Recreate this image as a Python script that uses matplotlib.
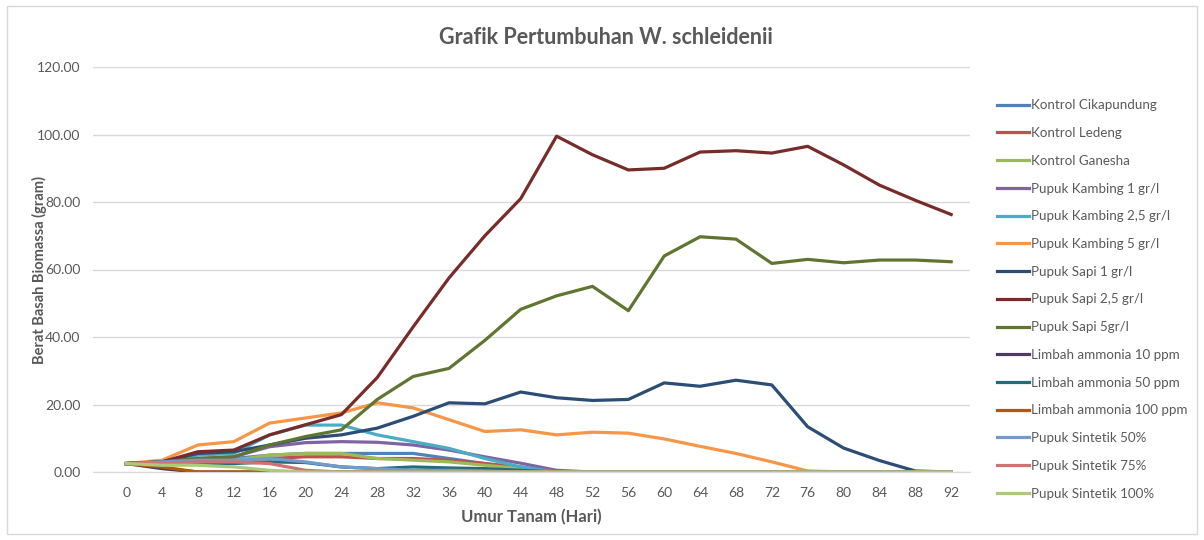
import matplotlib
matplotlib.use('Agg')
import matplotlib.pyplot as plt
from matplotlib.patches import Rectangle

plt.rcParams['font.family'] = ['Lato', 'DejaVu Sans']

days = list(range(0, 96, 4))

kontrol_cikapundung = [2.5, 3, 3.5, 4, 5, 5.5, 5.5, 5.5, 5.5, 4, 2.5, 1, 0, 0, 0, 0, 0, 0, 0, 0, 0, 0, 0, 0]
kontrol_ledeng = [2.5, 3, 3.5, 3.5, 4, 4.5, 4.5, 4, 4, 3.5, 2.5, 1.5, 0, 0, 0, 0, 0, 0, 0, 0, 0, 0, 0, 0]
kontrol_ganesha = [2.5, 3, 3, 3.5, 5, 5.5, 5.5, 4, 3.5, 3, 2, 1, 0, 0, 0, 0, 0, 0, 0, 0, 0, 0, 0, 0]
kambing_1 = [2.5, 3, 4, 4.5, 7.5, 8.7, 9, 8.8, 8, 6.5, 4.5, 2.6, 0.5, 0, 0, 0, 0, 0, 0, 0, 0, 0, 0, 0]
kambing_25 = [2.5, 3, 5, 5.5, 11, 13.9, 13.9, 11, 9, 7, 4, 1.5, 0, 0, 0, 0, 0, 0, 0, 0, 0, 0, 0, 0]
kambing_5 = [2.5, 3.5, 8, 9, 14.5, 16, 17.5, 20.5, 19, 15.5, 12, 12.5, 11, 11.8, 11.5, 9.8, 7.6, 5.5, 3, 0.3, 0, 0, 0, 0]
sapi_1 = [2.5, 3, 5.5, 6, 8, 10, 11, 13, 16.5, 20.5, 20.2, 23.7, 22, 21.2, 21.5, 26.4, 25.4, 27.2, 25.8, 13.4, 7.1, 3.4, 0.3, 0]
sapi_25 = [2.5, 3, 6, 6.5, 11, 14, 17, 28, 43, 57.5, 70, 81, 99.5, 94, 89.5, 90, 94.8, 95.2, 94.5, 96.5, 91, 85, 80.5, 76.3]
sapi_5 = [2.5, 3, 4, 4.5, 8, 10.5, 12.5, 21.5, 28.3, 30.7, 39, 48.2, 52.2, 55, 47.8, 64, 69.7, 69, 61.8, 63, 62, 62.8, 62.8, 62.3]
limbah_10 = [2.5, 1, 0, 0, 0, 0, 0, 0, 0, 0, 0, 0, 0, 0, 0, 0, 0, 0, 0, 0, 0, 0, 0, 0]
limbah_50 = [2.5, 2.5, 2.5, 2.5, 3, 2.8, 1.5, 1, 1.5, 1.2, 1, 0.5, 0, 0, 0, 0, 0, 0, 0, 0, 0, 0, 0, 0]
limbah_100 = [2.5, 1.5, 0, 0, 0, 0, 0, 0, 0, 0, 0, 0, 0, 0, 0, 0, 0, 0, 0, 0, 0, 0, 0, 0]
sintetik_50 = [2.5, 3, 3.5, 3.5, 4, 3, 1.5, 1, 0.5, 0.5, 0.3, 0, 0, 0, 0, 0, 0, 0, 0, 0, 0, 0, 0, 0]
sintetik_75 = [2.5, 2.5, 3, 3, 2.5, 0.5, 0, 0, 0, 0, 0, 0, 0, 0, 0, 0, 0, 0, 0, 0, 0, 0, 0, 0]
sintetik_100 = [2.5, 2, 2, 1.5, 0.5, 0, 0, 0, 0, 0, 0, 0, 0, 0, 0, 0, 0, 0, 0, 0, 0, 0, 0, 0]

series = [
    ('Kontrol Cikapundung', kontrol_cikapundung, '#4F81BD'),
    ('Kontrol Ledeng', kontrol_ledeng, '#C0504D'),
    ('Kontrol Ganesha', kontrol_ganesha, '#9BBB59'),
    ('Pupuk Kambing 1 gr/l', kambing_1, '#8064A2'),
    ('Pupuk Kambing 2,5 gr/l', kambing_25, '#4BACC6'),
    ('Pupuk Kambing 5 gr/l', kambing_5, '#F79646'),
    ('Pupuk Sapi 1 gr/l', sapi_1, '#2C4D75'),
    ('Pupuk Sapi 2,5 gr/l', sapi_25, '#772C2A'),
    ('Pupuk Sapi 5gr/l', sapi_5, '#5F7530'),
    ('Limbah ammonia 10 ppm', limbah_10, '#4D3B62'),
    ('Limbah ammonia 50 ppm', limbah_50, '#276A7C'),
    ('Limbah ammonia 100 ppm', limbah_100, '#B65708'),
    ('Pupuk Sintetik 50%', sintetik_50, '#729ACA'),
    ('Pupuk Sintetik 75%', sintetik_75, '#CD7371'),
    ('Pupuk Sintetik 100%', sintetik_100, '#AFC97A'),
]

TEXT = '#595959'

fig = plt.figure(figsize=(12.04, 5.4), dpi=100)
fig.patches.append(Rectangle((7 / 1204, 6 / 540), 1190 / 1204, 528 / 540,
                             transform=fig.transFigure, fill=False,
                             edgecolor='#d9d9d9', linewidth=1.0))

ax = fig.add_axes([93 / 1204, 68 / 540, 877 / 1204, 405 / 540])
for label, vals, color in series:
    ax.plot(days, vals, color=color, lw=2.3, label=label, solid_joinstyle='round')

ax.set_xlim(-3.7, 94.1)
ax.set_ylim(0, 120)
ax.set_xticks(days)
ax.set_yticks(range(0, 121, 20))
ax.set_yticklabels([f'{v:.2f}' for v in range(0, 121, 20)])
ax.grid(axis='y', color='#d9d9d9', lw=1.0)
ax.set_axisbelow(True)
for side in ['top', 'right', 'left']:
    ax.spines[side].set_visible(False)
ax.spines['bottom'].set_color('#d9d9d9')
ax.tick_params(length=0, colors=TEXT, labelsize=10)
ax.tick_params(axis='y', pad=9)
ax.tick_params(axis='x', pad=11)

ax.set_xlabel('Umur Tanam (Hari)', fontsize=12, fontweight='bold', color=TEXT, labelpad=7)
ax.set_ylabel('Berat Basah Biomassa (gram)', fontsize=10.5, fontweight='bold', color=TEXT, labelpad=-7)
fig.text(606 / 1204, 1 - 37 / 540, 'Grafik Pertumbuhan W. schleidenii', ha='center', va='center',
         fontsize=15.5, fontweight='bold', color=TEXT)

leg = ax.legend(loc='upper left', bbox_to_anchor=(992 / 1204, 1 - 94 / 540),
                bbox_transform=fig.transFigure, frameon=False, fontsize=9.6,
                handlelength=2.4, handletextpad=0.1, labelspacing=1.18,
                borderaxespad=0)
for t in leg.get_texts():
    t.set_color(TEXT)

fig.savefig('out.png', dpi=100)
